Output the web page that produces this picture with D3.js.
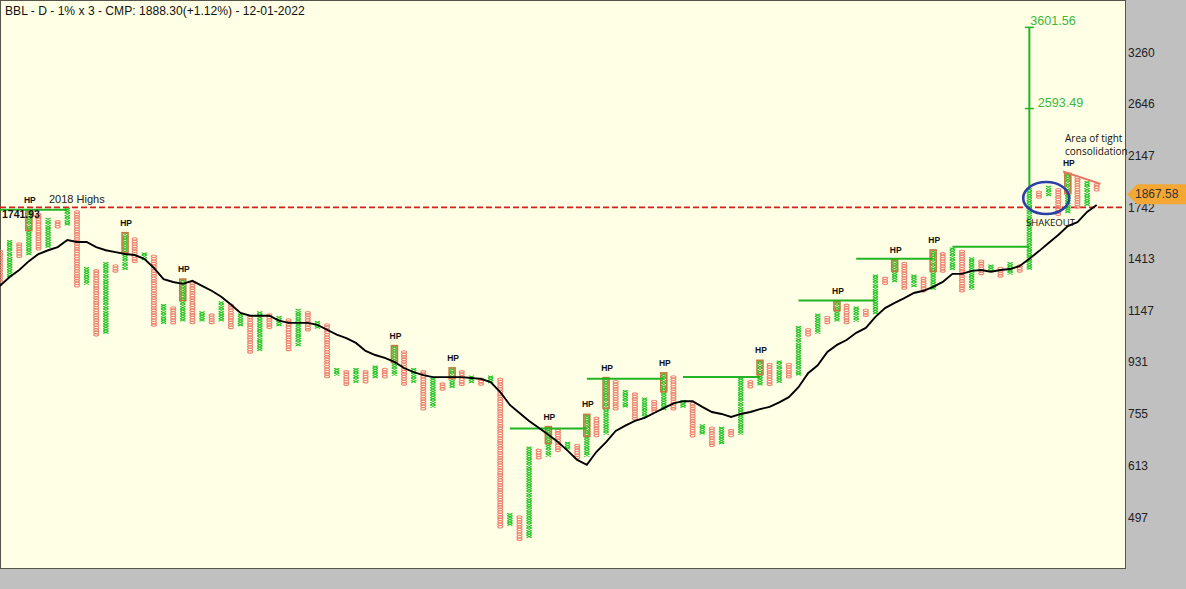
<!DOCTYPE html>
<html>
<head>
<meta charset="utf-8">
<script src="https://cdn.jsdelivr.net/npm/d3@7"></script>
<style>
  html, body { margin: 0; padding: 0; background: #c0c0c0; overflow: hidden; }
  svg { display: block; font-family: "Liberation Sans", Arial, sans-serif; }
</style>
</head>
<body>
<div id="chart"></div>
<script>
// point & figure columns, even index = O column, odd index = X column
const columnHighs = [
  1455, 1515, 1500, 1707, 1690, 1657, 1640, 1725, 1707, 1358,
  1345, 1386, 1372, 1560, 1530, 1441, 1427, 1170, 1158, 1293,
  1280, 1136, 1125, 1182, 1170, 1125, 1114, 1136, 1125, 1114,
  1103, 1147, 1136, 1092, 1081, 903, 894, 903, 894, 912,
  903, 988, 969, 903, 894, 868, 851, 903, 894, 876,
  868, 876, 868, 502, 497, 657, 651, 712, 705, 670,
  664, 748, 741, 868, 859, 826, 817, 801, 793, 885,
  876, 793, 786, 719, 712, 712, 705, 868, 859, 931,
  921, 931, 921, 1070, 1060, 1125, 1114, 1182, 1170, 1158,
  1147, 1318, 1305, 1399, 1386, 1318, 1305, 1455, 1441, 1470,
  1455, 1413, 1399, 1372, 1358, 1386, 1372, 1868, 1849, 1886,
  1868, 1983, 1963, 1924, 1905
]
const columnLows = [
  1293, 1318, 1427, 1441, 1470, 1485, 1608, 1624, 1267, 1280,
  1039, 1049, 1345, 1358, 1399, 1413, 1081, 1092, 1092, 1103,
  1092, 1103, 1092, 1103, 1070, 1081, 969, 978, 1070, 1081,
  978, 998, 1060, 1070, 876, 885, 851, 859, 859, 876,
  876, 885, 851, 859, 770, 778, 834, 842, 851, 859,
  851, 859, 477, 482, 454, 459, 632, 638, 651, 657,
  632, 638, 691, 698, 770, 778, 741, 748, 763, 770,
  770, 778, 691, 698, 664, 670, 691, 698, 842, 851,
  851, 859, 876, 885, 1039, 1049, 1092, 1103, 1092, 1103,
  1125, 1136, 1280, 1293, 1254, 1267, 1242, 1254, 1345, 1358,
  1242, 1254, 1332, 1345, 1318, 1332, 1345, 1358, 1813, 1831,
  1690, 1707, 1742, 1759, 1868
]

// moving average, one reading per column
const movingAverage = [
  1266, 1312, 1350, 1399, 1440, 1462, 1481, 1524, 1512, 1512,
  1481, 1462, 1451, 1440, 1434, 1412, 1361, 1301, 1286, 1276,
  1292, 1266, 1241, 1211, 1174, 1135, 1122, 1122, 1122, 1100,
  1090, 1090, 1090, 1081, 1060, 1039, 1025, 1005, 973, 957,
  946, 931, 908, 893, 882, 875, 875, 875, 875, 872,
  869, 858, 824, 782, 757, 733, 713, 693, 673, 650,
  626, 614, 647, 673, 704, 719, 733, 742, 757, 772,
  787, 794, 794, 776, 760, 754, 745, 754, 760, 769,
  776, 790, 807, 840, 889, 918, 969, 997, 1017, 1047,
  1068, 1117, 1157, 1182, 1205, 1230, 1241, 1261, 1286, 1329,
  1329, 1345, 1350, 1340, 1350, 1355, 1372, 1412, 1457, 1506,
  1555, 1612, 1638, 1707, 1756
]

// HP marks: column and the low end of the boxed part of it
const hpColumns = [3, 13, 19, 41, 47, 57, 61, 63, 69, 79, 87, 93, 97, 111]
const hpLows = [1593, 1457, 1200, 935, 875, 673, 693, 776, 830, 889, 1152, 1350, 1350, 1850]

// horizontal resistance lines
const lineStarts = [0, 53, 61, 71, 83, 89, 99]
const lineEnds = [7, 61, 69, 79, 91, 97, 107]
const linePrices = [1722, 711, 869, 876, 1193, 1412, 1483]

const targetColumn = 107
const targetPrices = [3601.56, 2593.49]
const highs2018 = 1741.93
const currentPrice = 1867.58
const axisTicks = [3260, 2646, 2147, 1742, 1413, 1147, 931, 755, 613, 497]
const titleText = 'BBL - D - 1% x 3 - CMP: 1888.30(+1.12%) - 12-01-2022'

const width = 1186
const height = 589
const plotRight = 1125
const plotBottom = 568
const boxSize = 1.01

const x = d3.scaleLinear().domain([0, 114]).range([0, 1096.7])
const y = d3.scaleLog().domain([497, 3260]).range([517, 52])

const svg = d3.select('#chart').append('svg')
  .attr('width', width)
  .attr('height', height)

svg.append('rect').attr('width', width).attr('height', height).attr('fill', '#c0c0c0')
svg.append('rect')
  .attr('x', 0.5)
  .attr('y', 0.5)
  .attr('width', plotRight)
  .attr('height', plotBottom)
  .attr('fill', '#ffffe6')
  .attr('stroke', '#55554a')

// 2018 highs
svg.append('line')
  .attr('x1', 0).attr('x2', plotRight)
  .attr('y1', y(highs2018) + 0.5).attr('y2', y(highs2018) + 0.5)
  .attr('stroke', '#d81e1e')
  .attr('stroke-width', 1.7)
  .attr('stroke-dasharray', '6,3')

// P&F columns, boxes are walked down from the high in 1% steps
const columns = svg.append('g').selectAll('g')
  .data(columnHighs)
  .join('g')
  .attr('transform', (d, i) => `translate(${x(i)},0)`)
  .attr('fill', 'none')
  .attr('stroke', (d, i) => i % 2 ? '#22c322' : '#ee8270')
  .attr('stroke-width', 1.1)

columns.selectAll('path')
  .data((high, i) => {
    const count = Math.round(Math.log(high / columnLows[i]) / Math.log(boxSize))
    return d3.range(count + 1).map(k => ({ price: high / Math.pow(boxSize, k), isX: i % 2 === 1 }))
  })
  .join('path')
  .attr('d', d => {
    const cy = y(d.price)
    if (d.isX) {
      return `M-2.6,${cy - 1.2}L2.6,${cy + 1.2}M-2.6,${cy + 1.2}L2.6,${cy - 1.2}`
    }
    return `M-2.5,${cy}a2.5,1.2 0 1,0 5,0a2.5,1.2 0 1,0 -5,0`
  })

// HP boxes and labels
svg.append('g').selectAll('rect')
  .data(hpColumns)
  .join('rect')
  .attr('x', d => x(d) - 3)
  .attr('y', (d, i) => y(columnHighs[d]) - 1.5)
  .attr('width', 6)
  .attr('height', (d, i) => y(hpLows[i]) - y(columnHighs[d]) + 3)
  .attr('fill', '#c98a4a')
  .attr('fill-opacity', 0.12)
  .attr('stroke', '#c47a3e')
  .attr('stroke-width', 1.6)

svg.append('g').selectAll('text')
  .data(hpColumns)
  .join('text')
  .attr('x', d => x(d) + 1)
  .attr('y', d => y(columnHighs[d]) - 8.5)
  .attr('text-anchor', 'middle')
  .attr('font-size', 8.5)
  .attr('font-weight', 'bold')
  .attr('fill', '#111')
  .text('HP')

// resistance lines
svg.append('g').selectAll('line')
  .data(linePrices)
  .join('line')
  .attr('x1', (d, i) => x(lineStarts[i]))
  .attr('x2', (d, i) => x(lineEnds[i]))
  .attr('y1', d => y(d))
  .attr('y2', d => y(d))
  .attr('stroke', '#22b422')
  .attr('stroke-width', 2)

// moving average
const maLine = d3.line()
  .x((d, i) => x(i))
  .y(d => y(d))

svg.append('path')
  .datum(movingAverage)
  .attr('d', maLine)
  .attr('fill', 'none')
  .attr('stroke', '#000')
  .attr('stroke-width', 1.9)

// count target
svg.append('line')
  .attr('x1', x(targetColumn)).attr('x2', x(targetColumn))
  .attr('y1', y(columnHighs[targetColumn])).attr('y2', y(targetPrices[0]))
  .attr('stroke', '#22b422')
  .attr('stroke-width', 2)

svg.append('g').selectAll('line')
  .data(targetPrices)
  .join('line')
  .attr('x1', x(targetColumn) - 4.5)
  .attr('x2', x(targetColumn) + 4.5)
  .attr('y1', d => y(d))
  .attr('y2', d => y(d))
  .attr('stroke', '#22b422')
  .attr('stroke-width', 1.5)

svg.selectAll('.target-label')
  .data(targetPrices)
  .join('text')
  .attr('class', 'target-label')
  .attr('x', (d, i) => x(targetColumn) + (i ? 8.5 : 1))
  .attr('y', d => y(d) - 2)
  .attr('font-size', 12.6)
  .attr('fill', '#3cb83c')
  .text(d => d.toFixed(2))

// falling trend over the last columns
svg.append('line')
  .attr('x1', x(110.5)).attr('y1', y(2010))
  .attr('x2', x(114.4)).attr('y2', y(1912))
  .attr('stroke', '#ea7465')
  .attr('stroke-width', 2)

// shakeout circle
svg.append('ellipse')
  .attr('cx', x(108.75))
  .attr('cy', y(1806))
  .attr('rx', 23)
  .attr('ry', 16)
  .attr('fill', 'none')
  .attr('stroke', '#2c3fa6')
  .attr('stroke-width', 2.6)

// price axis
const axis = d3.axisRight(y)
  .tickValues(axisTicks)
  .tickSize(0)
  .tickPadding(3)
  .tickFormat(d3.format('d'))

const axisG = svg.append('g')
  .attr('transform', `translate(${plotRight},0.3)`)
  .call(axis)
axisG.select('.domain').remove()
axisG.selectAll('text')
  .attr('font-family', '"Liberation Sans", Arial, sans-serif')
  .attr('font-size', 12)
  .attr('fill', '#222')

// last price tag
const tagY = y(currentPrice) + 4.5
svg.append('path')
  .attr('d', `M1127,${tagY}L1137,${tagY - 10}H1186V${tagY + 10}H1137Z`)
  .attr('fill', '#f5a733')
svg.append('text')
  .attr('x', 1135)
  .attr('y', tagY + 4)
  .attr('font-size', 12)
  .attr('fill', '#333')
  .text(currentPrice.toFixed(2))

// title and notes
svg.append('text')
  .attr('x', 5)
  .attr('y', 15)
  .attr('font-size', 12.1)
  .attr('fill', '#111')
  .text(titleText)

svg.append('text')
  .attr('x', 49)
  .attr('y', 203)
  .attr('font-size', 11)
  .attr('fill', '#222')
  .text('2018 Highs')

svg.append('text')
  .attr('x', 2)
  .attr('y', 218)
  .attr('font-size', 10.5)
  .attr('font-weight', 'bold')
  .attr('fill', '#111')
  .text(highs2018.toFixed(2))

const noteFont = '"Open Sans", sans-serif'
svg.append('text')
  .attr('x', 1026)
  .attr('y', 226)
  .attr('font-family', noteFont)
  .attr('font-size', 9.5)
  .attr('fill', '#111')
  .text('SHAKEOUT')

svg.append('text')
  .attr('x', 1065)
  .attr('y', 142)
  .attr('font-family', noteFont)
  .attr('font-size', 10)
  .attr('fill', '#111')
  .text('Area of tight')

svg.append('text')
  .attr('x', 1065)
  .attr('y', 155)
  .attr('font-family', noteFont)
  .attr('font-size', 10)
  .attr('fill', '#111')
  .text('consolidation')
</script>
</body>
</html>
